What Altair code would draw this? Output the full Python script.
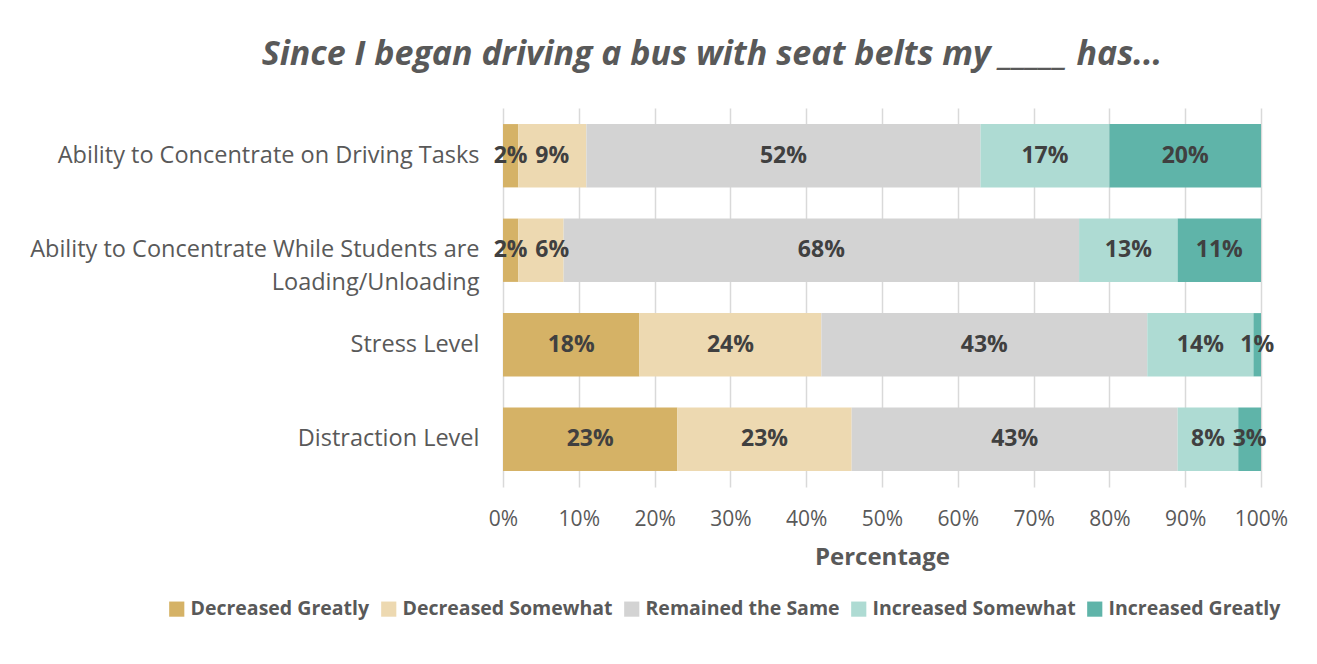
import altair as alt
import pandas as pd

questions = [
    "Ability to Concentrate on Driving Tasks",
    "Ability to Concentrate While Students are Loading/Unloading",
    "Stress Level",
    "Distraction Level",
]
responses = [
    "Decreased Greatly",
    "Decreased Somewhat",
    "Remained the Same",
    "Increased Somewhat",
    "Increased Greatly",
]
colors = ["#D5B266", "#EDD9B1", "#D3D3D3", "#AEDBD3", "#5FB4A9"]

decreased_greatly = [2, 2, 18, 23]
decreased_somewhat = [9, 6, 24, 23]
remained_same = [52, 68, 43, 43]
increased_somewhat = [17, 13, 14, 8]
increased_greatly = [20, 11, 1, 3]

series = [decreased_greatly, decreased_somewhat, remained_same,
          increased_somewhat, increased_greatly]

rows = []
for ri, (resp, vals) in enumerate(zip(responses, series)):
    for q, v in zip(questions, vals):
        rows.append({"question": q, "response": resp, "order": ri, "value": v})
df = pd.DataFrame(rows)

FONT = "Open Sans"
GRAY = "#595959"

base = alt.Chart(df).transform_stack(
    stack="value", groupby=["question"], sort=[{"field": "order", "order": "ascending"}],
    as_=["v0", "v1"]
).transform_calculate(
    # small segments right after a tiny first segment get nudged right to avoid label overlap
    mid="(datum.v0 + datum.v1) / 2 + ((datum.v0 > 0 && datum.v0 < 4 && datum.value < 8) ? 1.5 : 0)",
    lbl="datum.value + '%'",
)

y_enc = alt.Y(
    "question:N", sort=questions, title=None,
    scale=alt.Scale(paddingInner=0.33, paddingOuter=0.17),
    axis=alt.Axis(
        labelFont=FONT, labelFontSize=23.5, labelColor=GRAY, labelPadding=24,
        ticks=False, domain=False, labelLimit=700, labelLineHeight=33,
        labelExpr="datum.label == 'Ability to Concentrate While Students are Loading/Unloading' ? ['Ability to Concentrate While Students are', 'Loading/Unloading'] : datum.label",
    ),
)

bars = base.mark_bar().encode(
    x=alt.X(
        "v0:Q", title="Percentage",
        scale=alt.Scale(domain=[0, 100], nice=False),
        axis=alt.Axis(
            values=list(range(0, 101, 10)), labelExpr="datum.value + '%'",
            labelFont=FONT, labelFontSize=21, labelColor=GRAY, labelPadding=21,
            labelFlush=False,
            ticks=False, domain=False, grid=True, gridColor="#D9D9D9", gridWidth=1.5,
            titleFont=FONT, titleFontSize=24, titleFontWeight="bold", titleColor=GRAY,
            titlePadding=16,
        ),
    ),
    x2="v1:Q",
    y=y_enc,
    color=alt.Color(
        "response:N", sort=responses,
        scale=alt.Scale(domain=responses, range=colors),
        legend=alt.Legend(
            title=None, orient="none", direction="horizontal", columns=5,
            legendX=-336, legendY=491,
            symbolType="square", symbolSize=230, symbolStrokeWidth=0,
            labelFont=FONT, labelFontSize=19.5, labelFontWeight="bold", labelColor=GRAY,
            labelLimit=0, columnPadding=9, symbolOffset=0, labelOffset=4,
        ),
    ),
    order=alt.Order("order:Q"),
)

labels = base.mark_text(
    font=FONT, fontSize=23, fontWeight="bold", color="#404040"
).encode(
    x=alt.X("mid:Q"),
    y=alt.Y("question:N", sort=questions),
    text="lbl:N",
)

chart = alt.layer(bars, labels).properties(
    width=758, height=379,
    title=alt.Title(
        "Since I began driving a bus with seat belts my _____ has...",
        font=FONT, fontSize=34, fontStyle="italic", fontWeight="bold", color=GRAY,
        anchor="middle", dx=-170, offset=36,
    ),
    autosize=alt.AutoSizeParams(type="none"),
    padding={"left": 495, "top": 100, "right": 48, "bottom": 168},
).configure_view(stroke=None)

chart.save("out.html", embed_options={"renderer": "svg", "actions": False})
